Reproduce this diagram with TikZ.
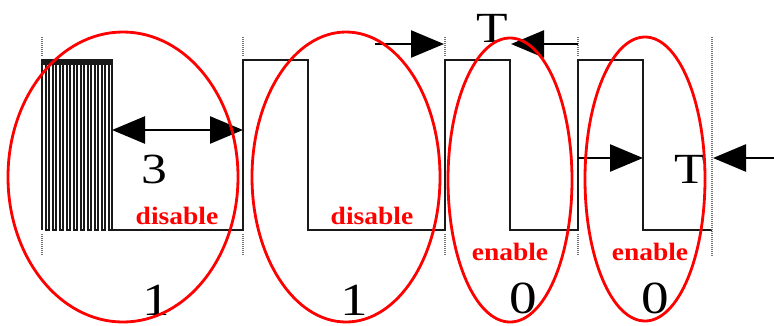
\documentclass[tikz,border=0pt]{standalone}
\usepackage{fontspec}
\setmainfont{Liberation Serif}
\usetikzlibrary{arrows.meta}
\begin{document}
\begin{tikzpicture}[x=1pt,y=-1pt,
  wave/.style={line width=2.2pt, draw=black!90, line join=miter},
  oval/.style={draw=red, line width=2.8pt},
  tickmark/.style={draw=black!55, line width=1.4pt, dash pattern=on 1pt off 1pt},
  harrow/.style={line width=2.5pt, -{Triangle[length=33pt,width=27pt]}},
  dharrow/.style={line width=2.5pt, {Triangle[length=33pt,width=27pt]}-{Triangle[length=33pt,width=27pt]}},
  lab/.style={font=\fontsize{25}{25}\selectfont\bfseries, text=red, inner sep=0pt},
  big/.style={font=\fontsize{43}{43}\selectfont, inner sep=0pt},
  digit/.style={font=\fontsize{46}{46}\selectfont, inner sep=0pt},
]
\useasboundingbox (0,0) rectangle (774,325);

% hatched burst
\fill[black!90] (41,58.5) rectangle (113,65);
\draw[wave, line width=1.3pt] (42,230) -- (42,60)
  \foreach \i in {0,...,9}{ -- ({46+7*\i},60) -- ({46+7*\i},230) -- ({49+7*\i},230) -- ({49+7*\i},60)};
\draw[wave, line width=2.6pt] (42,230) -- (42,60);

% main waveform
\draw[wave] (112,60) -- (112,230) -- (243,230) -- (243,60) -- (308,60) -- (308,230)
  -- (445,230) -- (445,60) -- (510,60) -- (510,230) -- (578,230) -- (578,60)
  -- (643,60) -- (643,230) -- (712,230);

% dotted markers
\foreach \x in {42,243,445,578}{
  \draw[tickmark] (\x,37) -- (\x,57);
  \draw[tickmark] (\x,234) -- (\x,256);
}
\draw[tickmark] (712,37) -- (712,256);

% arrows
\coordinate (e1) at (112,130);
\coordinate (r1) at (243,130);
\draw[dharrow] (e1) -- (r1);

\coordinate (ta) at (375,44);
\coordinate (tb) at (444,44);
\coordinate (tc) at (578,44);
\coordinate (td) at (511,44);
\draw[harrow] (ta) -- (tb);
\draw[harrow] (tc) -- (td);

\coordinate (la) at (578,158);
\coordinate (lb) at (643,158);
\coordinate (lc) at (774,158);
\coordinate (ld) at (713,158);
\draw[harrow] (la) -- (lb);
\draw[harrow] (lc) -- (ld);

% texts
\node[big] (three) at (154,169) {\scalebox{1.2}[1]{3}};
\node[big] (ttop) at (492,28) {\scalebox{1.2}[1]{T}};
\node[big] (tlow) at (690,169) {\scalebox{1.2}[1]{T}};

\node[lab] (dis1) at (177,216) {\scalebox{1.1}[1]{disable}};
\node[lab] (dis2) at (372,216) {\scalebox{1.1}[1]{disable}};
\node[lab] (en1) at (510,252) {\scalebox{1.1}[1]{enable}};
\node[lab] (en2) at (650,252) {\scalebox{1.1}[1]{enable}};

\node[digit] (d1) at (156,300) {\scalebox{1.2}[1]{1}};
\node[digit] (d2) at (354,300) {\scalebox{1.2}[1]{1}};
\node[digit] (d3) at (523,298) {\scalebox{1.2}[1]{0}};
\node[digit] (d4) at (655,298) {\scalebox{1.2}[1]{0}};

% red ellipses
\draw[oval] (123,177) ellipse [x radius=115, y radius=145];
\draw[oval] (346,177) ellipse [x radius=94, y radius=145];
\draw[oval] (510,180) ellipse [x radius=62, y radius=142];
\draw[oval] (645,179) ellipse [x radius=60, y radius=142];
\end{tikzpicture}
\end{document}
